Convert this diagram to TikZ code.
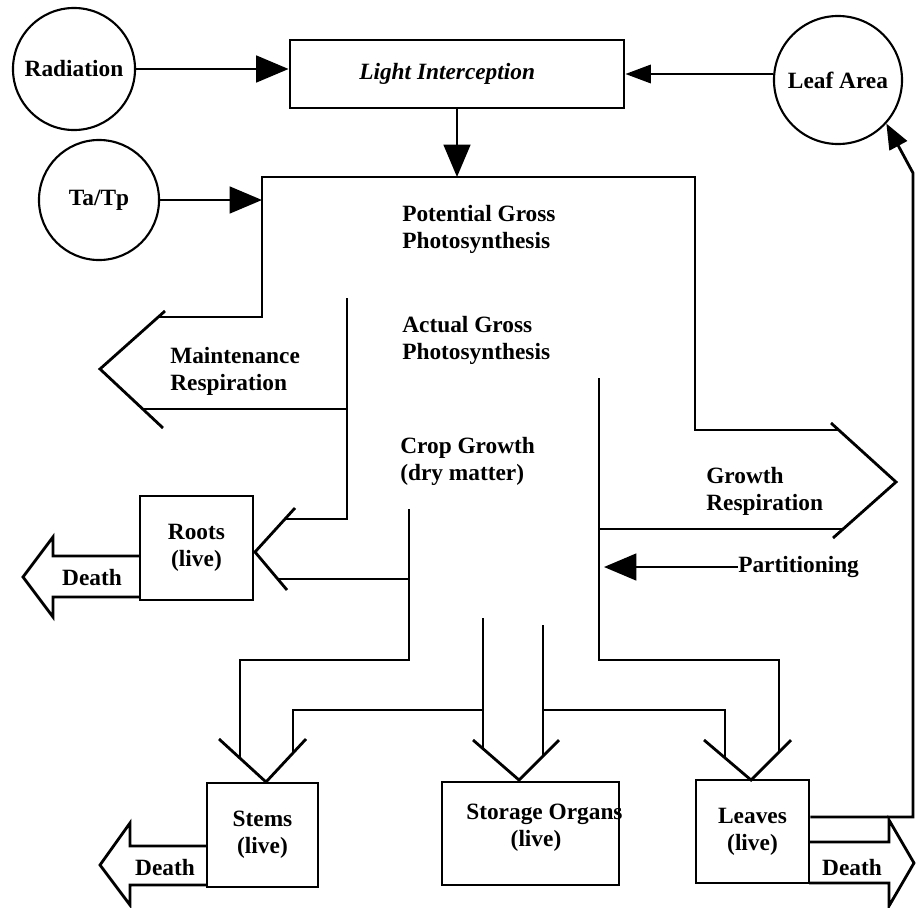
\documentclass[tikz,border=0pt]{standalone}
\usepackage{fontspec}
\setmainfont{Liberation Serif}
\usetikzlibrary{arrows.meta}

\begin{document}
\begin{tikzpicture}[x=0.025cm, y=-0.025cm,
  font=\fontsize{16.6}{19.1}\selectfont\bfseries,
  pool/.style={circle, draw, line width=1.5pt, inner sep=0pt},
  organ/.style={draw, line width=2pt, align=center, inner sep=0pt},
  lbl/.style={anchor=west, align=left, inner sep=0pt},
  flow/.style={line width=2pt, line join=miter},
  bigtip/.style={line width=1.7pt, -{Triangle[length=23pt,width=19pt]}},
  smalltip/.style={line width=1.7pt, -{Triangle[length=18pt,width=13pt]}}]
\useasboundingbox (0,0) rectangle (916,908);

% inputs
\node[pool, minimum size=3.05cm] (rad) at (74,69) {Radiation};
\node[pool, minimum size=3cm] (tatp) at (99,200) {Ta/Tp};
\node[pool, minimum size=3.2cm] (leaf) at (838,80) {Leaf Area};
\node[organ, minimum width=8.35cm, minimum height=1.7cm] (light) at (457,74) {\itshape Light Interception\hspace{14pt}};
\coordinate (ptop) at (462,177);
\coordinate (pleft) at (262,200);
\draw[bigtip] (rad) -- (rad -| light.west);
\draw[smalltip] (leaf.west |- light.east) -- (light.east);
\draw[bigtip] (light.south) -- (light.south |- ptop);
\draw[bigtip] (tatp.east) -- (pleft);

% photosynthesis
\node[lbl] (pot) at (402,229) {Potential Gross\\Photosynthesis};
\node[lbl] (act) at (402,340) {Actual Gross\\Photosynthesis};
\node[lbl] (crop) at (400,461) {Crop Growth\\(dry matter)};

% maintenance respiration
\draw[flow] (158,317) -- (262,317) -- (262,177) -- (695,177) -- (695,430) -- (838,430);
\draw[flow] (165,311) -- (100,369) -- (163,428);
\draw[flow] (143,409) -- (347,409);
\draw[flow] (347,298) -- (347,519) -- (286,519);
\node[lbl] (maint) at (170,371) {Maintenance\\Respiration};

% roots
\node[organ, minimum width=2.825cm, minimum height=2.6cm] (roots) at (196.5,548) {Roots\\(live)};
\draw[flow] (295,508) -- (255,552) -- (287,590);
\draw[flow] (278,579) -- (409,579);
\draw[flow] (140,556) -- (53,556) -- (53,537) -- (23,577) -- (53,617) -- (53,597) -- (140,597);
\node (rdeath) at (92,578) {Death};

% stems
\draw[flow] (409,509) -- (409,660) -- (240,660) -- (240,758);
\draw[flow] (219,739) -- (266,782) -- (306,739);
\draw[flow] (293,753) -- (293,710) -- (483,710);
\node[organ, minimum width=2.775cm, minimum height=2.6cm] (stems) at (262.5,835) {Stems\\(live)};
\draw[flow] (207,846) -- (130,846) -- (130,823) -- (100,865) -- (130,905) -- (130,885) -- (207,885);
\node (sdeath) at (165,868) {Death};

% storage organs
\draw[flow] (483,618) -- (483,749);
\draw[flow] (543,625) -- (543,756);
\draw[flow] (473,740) -- (519,780) -- (559,740);
\node[organ, minimum width=4.425cm, minimum height=2.575cm] (store) at (530.5,833.5) {};
\node (storetxt) at (536,828) [align=center] {\hspace{12pt}Storage Organs\\(live)};

% leaves
\draw[flow] (543,710) -- (725,710) -- (725,758);
\draw[flow] (599,378) -- (599,660) -- (779,660) -- (779,752);
\draw[flow] (704,740) -- (751,780) -- (791,740);
\node[organ, minimum width=2.825cm, minimum height=2.575cm] (leaves) at (752.5,831.5) {Leaves\\(live)};
\draw[flow] (809,842) -- (889,842) -- (889,820) -- (914,863) -- (889,906) -- (889,883) -- (809,883);
\node (ldeath) at (852,868) {Death};
\coordinate (lback) at (913,817);
\draw[flow, -{Triangle[length=18pt,width=14pt]}] (leaves.east |- lback) -- (lback) -- (913,173) -- (leaf.-42);

% growth respiration
\draw[flow] (599,529) -- (843,529);
\draw[flow] (831,423) -- (896,482) -- (833,538);
\node[lbl] (grow) at (706,491) {Growth\\Respiration};
\coordinate (pin) at (604,567);
\node[lbl] (part) at (738,567) {Partitioning};
\draw[bigtip] (part.west) -- (pin);
\end{tikzpicture}
\end{document}
